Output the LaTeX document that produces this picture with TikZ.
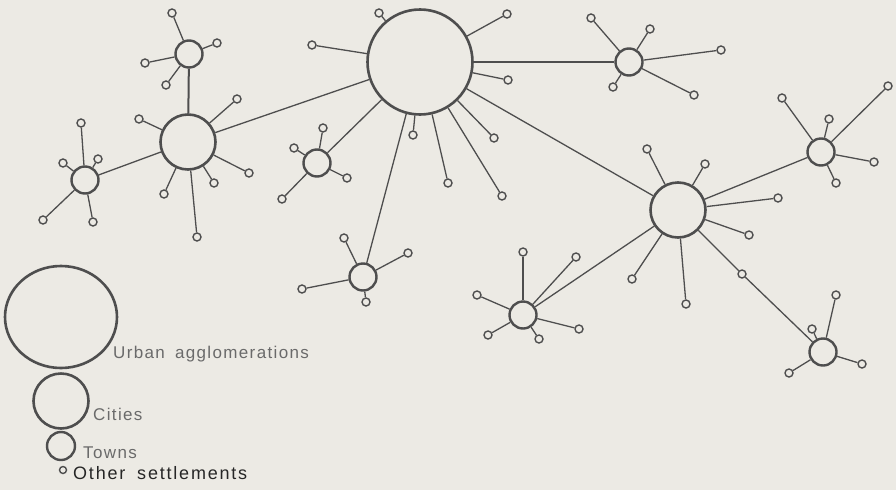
\documentclass[tikz,border=0pt]{standalone}
\usepackage{fontspec}
\usetikzlibrary{shapes.geometric}
\newfontfamily\lgfont[LetterSpace=8]{Liberation Sans}
\newfontfamily\lgfontb[LetterSpace=10]{Liberation Sans}
\definecolor{bgc}{HTML}{ECEAE4}
\definecolor{lnc}{HTML}{4E4E4E}
\definecolor{txg}{HTML}{6A6A6A}
\definecolor{txd}{HTML}{262626}
\tikzset{
  agglo/.style={circle,draw=lnc,line width=2.6pt,minimum size=105pt,inner sep=0pt},
  city/.style={circle,draw=lnc,line width=2.6pt,minimum size=55pt,inner sep=0pt},
  town/.style={circle,draw=lnc,line width=2.4pt,minimum size=27pt,inner sep=0pt},
  settle/.style={circle,draw=lnc,line width=1.4pt,minimum size=8pt,inner sep=0pt},
  link/.style={draw=lnc,line width=1.3pt},
  thicklink/.style={draw=lnc,line width=2pt},
  lgtext/.style={anchor=base west,inner sep=0pt,text=txg,font=\lgfont\fontsize{17}{19}\selectfont},
  lgtextd/.style={anchor=base west,inner sep=0pt,text=txd,font=\lgfontb\fontsize{18}{20}\selectfont}
}
\begin{document}
\begin{tikzpicture}[x=1pt,y=-1pt]
\fill[bgc] (0,0) rectangle (896,490);
\useasboundingbox (0,0) rectangle (896,490);
% hubs
\node[agglo] (D) at (420,62) {};
\node[city] (B) at (188,142) {};
\node[city] (F) at (678,210) {};
\node[town] (A) at (189,54) {};
\node[town] (C) at (85,180) {};
\node[town] (G) at (317,163) {};
\node[town] (E) at (629,62) {};
\node[town] (I) at (821,152) {};
\node[town] (K) at (523,315) {};
\node[town] (H) at (363,277) {};
\node[town] (J) at (823,352) {};
\node[settle] (M) at (742,274) {};
% main links
\draw[link] (D) -- (B);
\draw[thicklink] (D) -- (E);
\draw[link] (D) -- (F);
\draw[link] (D) -- (G);
\draw[link] (D) -- (H);
\draw[thicklink] (B) -- (A);
\draw[link] (B) -- (C);
\draw[link] (F) -- (I);
\draw[link] (F) -- (K);
\draw[link] (F) -- (M);
\draw[link] (M) -- (J);
% satellites
\foreach \x/\y [count=\i] in {379/13,507/14,312/45,508/80,413/135,494/138,448/183,502/196}
  {\node[settle] (D\i) at (\x,\y) {}; \draw[link] (D) -- (D\i);}
\foreach \x/\y [count=\i] in {139/119,237/99,249/173,214/183,164/194,197/237}
  {\node[settle] (B\i) at (\x,\y) {}; \draw[link] (B) -- (B\i);}
\foreach \x/\y [count=\i] in {172/13,217/43,145/63,166/85}
  {\node[settle] (A\i) at (\x,\y) {}; \draw[link] (A) -- (A\i);}
\foreach \x/\y [count=\i] in {81/123,63/163,98/159,43/220,93/222}
  {\node[settle] (C\i) at (\x,\y) {}; \draw[link] (C) -- (C\i);}
\foreach \x/\y [count=\i] in {323/128,294/148,347/178,282/199}
  {\node[settle] (G\i) at (\x,\y) {}; \draw[link] (G) -- (G\i);}
\foreach \x/\y [count=\i] in {591/18,650/29,721/50,613/87,694/95}
  {\node[settle] (E\i) at (\x,\y) {}; \draw[link] (E) -- (E\i);}
\foreach \x/\y [count=\i] in {782/98,888/86,829/119,874/162,836/183}
  {\node[settle] (I\i) at (\x,\y) {}; \draw[link] (I) -- (I\i);}
\foreach \x/\y [count=\i] in {647/149,705/164,778/198,749/235,632/279,686/304}
  {\node[settle] (F\i) at (\x,\y) {}; \draw[link] (F) -- (F\i);}
\foreach \x/\y [count=\i] in {576/257,477/295,579/329,488/335,539/339}
  {\node[settle] (K\i) at (\x,\y) {}; \draw[link] (K) -- (K\i);}
\node[settle] (K0) at (523,252) {}; \draw[thicklink] (K) -- (K0);
\foreach \x/\y [count=\i] in {344/238,408/253,302/289,366/302}
  {\node[settle] (H\i) at (\x,\y) {}; \draw[link] (H) -- (H\i);}
\foreach \x/\y [count=\i] in {836/295,812/329,862/364,789/373}
  {\node[settle] (J\i) at (\x,\y) {}; \draw[link] (J) -- (J\i);}
% legend
\node[ellipse,draw=lnc,line width=2.6pt,minimum width=112pt,minimum height=102pt,inner sep=0pt] (LU) at (61,317) {};
\node[city] (LC) at (61,401) {};
\node[town,minimum size=28pt] (LT) at (61,446) {};
\node[settle,minimum size=7pt] (LS) at (63,470) {};
\node[lgtext] (TU) at (113,358) {Urban\hspace{4pt} agglomerations};
\node[lgtext] (TC) at (93,420) {Cities};
\node[lgtext] (TT) at (83,458) {Towns};
\node[lgtextd] (TS) at (73,479) {Other\hspace{5pt} settlements};
\end{tikzpicture}
\end{document}
